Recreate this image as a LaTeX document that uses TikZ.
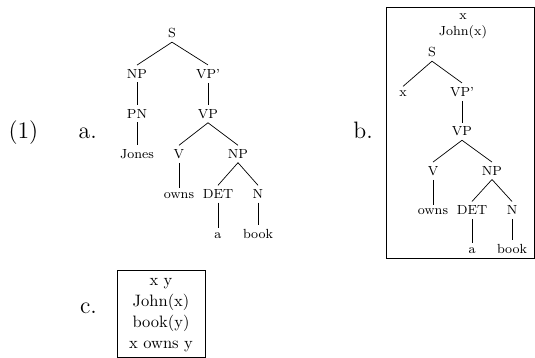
\documentclass[tikz,border=0pt]{standalone}
\usepackage{graphicx}
% text of the trees, the boxes and the labels, set at the design size and enlarged
\newcommand\trtext[1]{\scalebox{1.65}{\footnotesize #1}}
\newcommand\drstext[1]{\scalebox{1.65}{\normalsize #1}}
\newcommand\extext[1]{\scalebox{1.65}{\Large #1}}
\begin{document}
\begin{tikzpicture}[x=1pt,y=-1pt,
  lbl/.style={inner sep=0pt,anchor=base,inner ysep=4pt},
  exlabel/.style={inner sep=0pt,anchor=base east},
  drs/.style={draw,line width=0.7pt,inner sep=0pt},
  drsline/.style={inner sep=0pt,anchor=base},
  edge/.style={line width=0.7pt}]
\useasboundingbox (0,0) rectangle (535,358);

% example labels
\node[exlabel] (num) at (38.5,139) {\extext{(1)}};
\node[exlabel] (la) at (97,138.5) {\extext{a.}};
\node[exlabel] (lb) at (373,138.5) {\extext{b.}};
\node[exlabel] (lc) at (97,313) {\extext{c.}};

% (a) syntax tree
\node[lbl] (aS)    at (172,37.7)  {\trtext{S}};
\node[lbl] (aNP)   at (137,78.3)  {\trtext{NP}};
\node[lbl] (aVPp)  at (208,78.3)  {\trtext{VP'}};
\node[lbl] (aPN)   at (137,118.3) {\trtext{PN}};
\node[lbl] (aVP)   at (208,118.3) {\trtext{VP}};
\node[lbl] (aJones) at (137,158.5) {\trtext{Jones}};
\node[lbl] (aV)    at (179,158.5) {\trtext{V}};
\node[lbl] (aNP2)  at (238,158.5) {\trtext{NP}};
\node[lbl] (aowns) at (179,198.5) {\trtext{owns}};
\node[lbl] (aDET)  at (218,198.5) {\trtext{DET}};
\node[lbl] (aN)    at (258,198.5) {\trtext{N}};
\node[lbl] (aa)    at (218,238.5) {\trtext{a}};
\node[lbl] (abook) at (258,238.5) {\trtext{book}};

\draw[edge] (aS.south) -- (aNP.north);
\draw[edge] (aS.south) -- (aVPp.north);
\draw[edge] (aNP.south) -- (aPN.north);
\draw[edge] (aPN.south) -- (aJones.north);
\draw[edge] (aVPp.south) -- (aVP.north);
\draw[edge] (aVP.south) -- (aV.north);
\draw[edge] (aVP.south) -- (aNP2.north);
\draw[edge] (aV.south) -- (aowns.north);
\draw[edge] (aNP2.south) -- (aDET.north);
\draw[edge] (aNP2.south) -- (aN.north);
\draw[edge] (aDET.south) -- (aa.north);
\draw[edge] (aN.south) -- (abook.north);

% (b) tree inside a DRS box
\node[drs,minimum width=148pt,minimum height=251pt] (bbox) at (460,132.5) {};
\node[lbl] (bx0)   at (463,20)    {\trtext{x}};
\node[lbl] (bJohn) at (463,35.3)  {\trtext{John(x)}};
\node[lbl] (bS)    at (432,56.7)  {\trtext{S}};
\node[lbl] (bx)    at (403,96.3)  {\trtext{x}};
\node[lbl] (bVPp)  at (462,96.3)  {\trtext{VP'}};
\node[lbl] (bVP)   at (462,135.8) {\trtext{VP}};
\node[lbl] (bV)    at (433,175.3) {\trtext{V}};
\node[lbl] (bNP)   at (492,175.3) {\trtext{NP}};
\node[lbl] (bowns) at (433,214.7) {\trtext{owns}};
\node[lbl] (bDET)  at (472,214.7) {\trtext{DET}};
\node[lbl] (bN)    at (512,214.7) {\trtext{N}};
\node[lbl] (ba)    at (472,253.5) {\trtext{a}};
\node[lbl] (bbook) at (512,253.5) {\trtext{book}};

\draw[edge] (bS.south) -- (bx.north);
\draw[edge] (bS.south) -- (bVPp.north);
\draw[edge] (bVPp.south) -- (bVP.north);
\draw[edge] (bVP.south) -- (bV.north);
\draw[edge] (bVP.south) -- (bNP.north);
\draw[edge] (bV.south) -- (bowns.north);
\draw[edge] (bNP.south) -- (bDET.north);
\draw[edge] (bNP.south) -- (bN.north);
\draw[edge] (bDET.south) -- (ba.north);
\draw[edge] (bN.south) -- (bbook.north);

% (c) final DRS
\node[drs,minimum width=88pt,minimum height=87pt] (cbox) at (161,313.5) {};
\node[drsline] (c1) at (161,285.7) {\drstext{x y}};
\node[drsline] (c2) at (161,306.7) {\drstext{John(x)}};
\node[drsline] (c3) at (161,327.7) {\drstext{book(y)}};
\node[drsline] (c4) at (161,348.7) {\drstext{x owns y}};
\end{tikzpicture}
\end{document}
